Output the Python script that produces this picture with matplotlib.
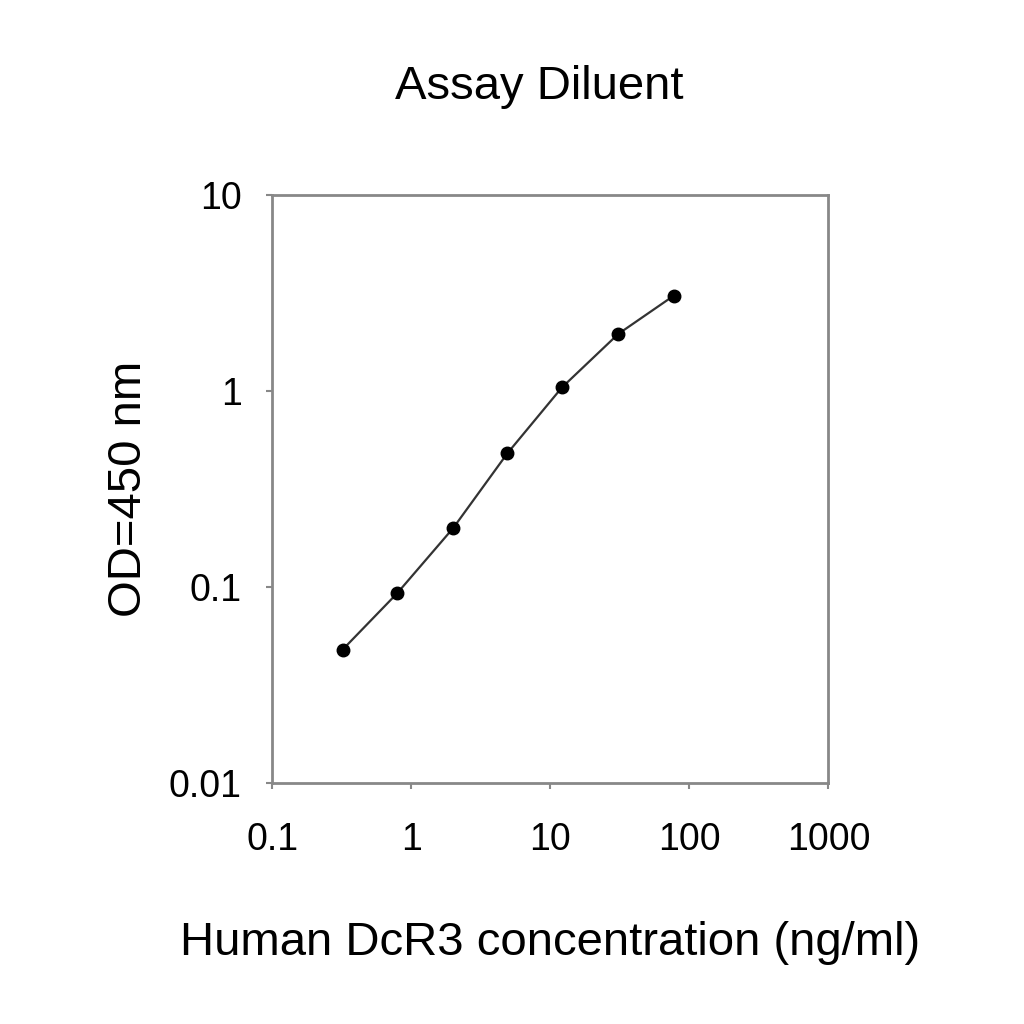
import matplotlib
matplotlib.use("Agg")
import matplotlib.pyplot as plt
from matplotlib.ticker import FixedLocator, NullLocator

plt.rcParams['font.family'] = ['Liberation Sans', 'DejaVu Sans']

# DcR3 standard curve
conc = [0.32, 0.79, 2.0, 4.9, 12.1, 30.8, 77.0]
od = [0.048, 0.093, 0.20, 0.48, 1.04, 1.95, 3.05]

x_ticks = [0.1, 1, 10, 100, 1000]
x_labels = ['0.1', '1', '10', '100', '1000']
y_ticks = [0.01, 0.1, 1, 10]
y_labels = ['0.01', '0.1', '1', '10']

fig = plt.figure(figsize=(10.24, 10.24), dpi=100)
ax = fig.add_axes([0.266, 0.235, 0.543, 0.575])

ax.plot(conc, od, color='#333333', lw=1.6, marker='o', ms=9, mfc='black', mec='black')

ax.set_xscale('log')
ax.set_yscale('log')
ax.set_xlim(0.1, 1000)
ax.set_ylim(0.01, 10)
ax.xaxis.set_major_locator(FixedLocator(x_ticks))
ax.yaxis.set_major_locator(FixedLocator(y_ticks))
ax.xaxis.set_minor_locator(NullLocator())
ax.yaxis.set_minor_locator(NullLocator())
ax.set_xticklabels(x_labels)
ax.set_yticklabels(y_labels)
ax.tick_params(axis='both', direction='out', length=4, width=1.5, color='#888888',
               labelsize=27)
ax.tick_params(axis='x', pad=24)
ax.tick_params(axis='y', pad=18)

for s in ax.spines.values():
    s.set_color('#888888')
    s.set_linewidth(2)

ax.set_xlabel('Human DcR3 concentration (ng/ml)', fontsize=34, labelpad=45)
ax.set_ylabel('OD=450 nm', fontsize=34, labelpad=13)
fig.text(0.527, 0.915, 'Assay Diluent', fontsize=34, ha='center', va='center')

fig.savefig('out.png', dpi=100, facecolor='white')
